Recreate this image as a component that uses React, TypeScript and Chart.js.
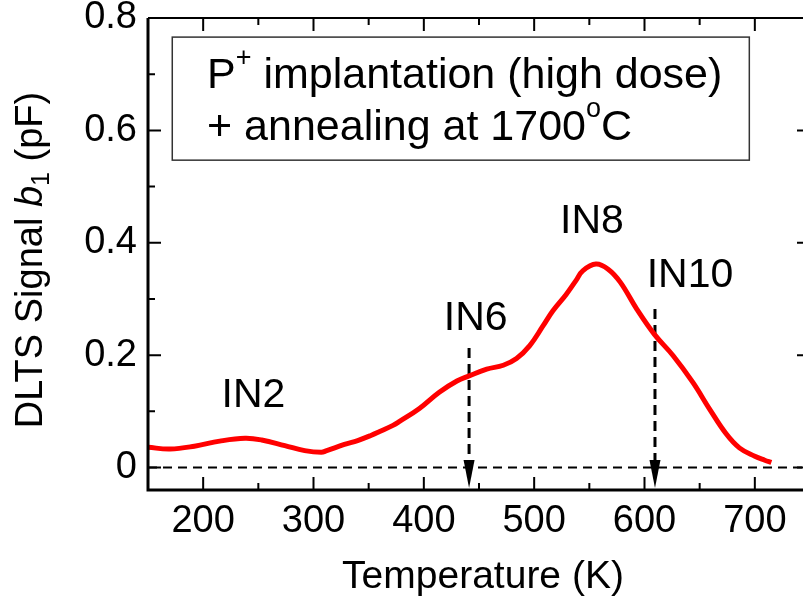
import React, { useEffect, useRef } from "react";
import { Chart, registerables } from "chart.js";

Chart.register(...registerables);

// ---- data ----
const TEMPERATURE_K = [150, 170, 192, 215, 238, 253, 274, 292, 307, 312, 328, 340, 352, 360, 372, 378, 396, 414, 430, 441, 457, 472, 484, 496, 508, 517, 529, 538, 544, 556, 567, 578, 593, 609, 626, 644, 659, 674, 686, 700, 709, 715];
const SIGNAL_PF = [0.036, 0.033, 0.038, 0.047, 0.052, 0.049, 0.039, 0.030, 0.027, 0.030, 0.041, 0.048, 0.057, 0.064, 0.075, 0.082, 0.105, 0.134, 0.154, 0.163, 0.175, 0.182, 0.194, 0.217, 0.252, 0.279, 0.308, 0.333, 0.350, 0.362, 0.353, 0.330, 0.282, 0.237, 0.199, 0.151, 0.104, 0.060, 0.035, 0.020, 0.013, 0.009];

const X_TICKS = [200, 300, 400, 500, 600, 700];
const X_MINOR = [250, 350, 450, 550, 650];
const Y_TICKS = [0, 0.2, 0.4, 0.6, 0.8];
const Y_MINOR = [0.1, 0.3, 0.5, 0.7];

const PEAK_LABELS = ["IN2", "IN6", "IN8", "IN10"];
const PEAK_LABEL_T = [245.6, 447, 552.4, 641.2];
const PEAK_LABEL_V = [0.108, 0.245, 0.417, 0.321];

const ARROW_T = [441, 609.5];
const ARROW_TOP = [0.2127, 0.282];
const ARROW_TIP = -0.0365;

const BOX_T = [172, 695];
const BOX_V = [0.766, 0.547];
const BOX_TEXT_T = 203.5;
const BOX_LINE_V = [0.675, 0.583];

const FONT = "'Liberation Sans', Arial, Helvetica, sans-serif";

const overlay = {
  id: "overlay",
  beforeDatasetsDraw(chart: any) {
    const ctx = chart.ctx;
    const xs = chart.scales.x;
    const ys = chart.scales.y;
    const ca = chart.chartArea;
    ctx.save();
    // zero dashed line
    ctx.strokeStyle = "#000";
    ctx.lineWidth = 2;
    ctx.setLineDash([9, 6]);
    const y0 = ys.getPixelForValue(0);
    ctx.beginPath();
    ctx.moveTo(ca.left, y0);
    ctx.lineTo(ca.right, y0);
    ctx.stroke();
    // arrows
    ARROW_T.forEach((t, i) => {
      const x = xs.getPixelForValue(t);
      const yTop = ys.getPixelForValue(ARROW_TOP[i]);
      const yTip = ys.getPixelForValue(ARROW_TIP);
      const head = 28;
      ctx.setLineDash([10, 6]);
      ctx.lineWidth = 3;
      ctx.beginPath();
      ctx.moveTo(x, yTop);
      ctx.lineTo(x, yTip - head + 2);
      ctx.stroke();
      ctx.setLineDash([]);
      ctx.fillStyle = "#000";
      ctx.beginPath();
      ctx.moveTo(x - 5.5, yTip - head);
      ctx.lineTo(x + 5.5, yTip - head);
      ctx.lineTo(x, yTip);
      ctx.closePath();
      ctx.fill();
    });
    ctx.restore();
  },
  afterDatasetsDraw(chart: any) {
    const ctx = chart.ctx;
    const xs = chart.scales.x;
    const ys = chart.scales.y;
    const ca = chart.chartArea;
    ctx.save();
    ctx.setLineDash([]);
    ctx.strokeStyle = "#000";
    // frame
    ctx.lineWidth = 3;
    ctx.beginPath();
    ctx.moveTo(ca.left, ca.top);
    ctx.lineTo(ca.left, ca.bottom);
    ctx.lineTo(ca.right, ca.bottom);
    ctx.stroke();
    ctx.lineWidth = 2;
    ctx.beginPath();
    ctx.moveTo(ca.left, ca.top);
    ctx.lineTo(ca.right, ca.top);
    ctx.lineTo(ca.right, ca.bottom);
    ctx.stroke();
    // ticks
    ctx.lineWidth = 2;
    const major = 13;
    const minor = 7;
    ctx.beginPath();
    const xt = (vals: number[], len: number) =>
      vals.forEach((v) => {
        const x = xs.getPixelForValue(v);
        ctx.moveTo(x, ca.bottom);
        ctx.lineTo(x, ca.bottom - len);
        ctx.moveTo(x, ca.top);
        ctx.lineTo(x, ca.top + len);
      });
    const yt = (vals: number[], len: number) =>
      vals.forEach((v) => {
        const y = ys.getPixelForValue(v);
        ctx.moveTo(ca.left, y);
        ctx.lineTo(ca.left + len, y);
        ctx.moveTo(ca.right, y);
        ctx.lineTo(ca.right - len, y);
      });
    xt(X_TICKS, major);
    xt(X_MINOR, minor);
    yt(Y_TICKS, major);
    yt(Y_MINOR, minor);
    ctx.stroke();

    // peak labels
    ctx.fillStyle = "#000";
    ctx.textBaseline = "alphabetic";
    ctx.textAlign = "center";
    ctx.font = `41px ${FONT}`;
    PEAK_LABELS.forEach((s, i) => {
      ctx.fillText(s, xs.getPixelForValue(PEAK_LABEL_T[i]), ys.getPixelForValue(PEAK_LABEL_V[i]));
    });

    // box
    const bx0 = xs.getPixelForValue(BOX_T[0]);
    const bx1 = xs.getPixelForValue(BOX_T[1]);
    const by0 = ys.getPixelForValue(BOX_V[0]);
    const by1 = ys.getPixelForValue(BOX_V[1]);
    ctx.fillStyle = "#fff";
    ctx.fillRect(bx0, by0, bx1 - bx0, by1 - by0);
    ctx.strokeStyle = "#333";
    ctx.lineWidth = 1.5;
    ctx.strokeRect(bx0, by0, bx1 - bx0, by1 - by0);

    ctx.fillStyle = "#000";
    ctx.textAlign = "left";
    const runs = (parts: [string, number, number][], x: number, y: number) => {
      let cx = x;
      parts.forEach(([txt, size, dy]) => {
        ctx.font = `${size}px ${FONT}`;
        ctx.fillText(txt, cx, y + dy);
        cx += ctx.measureText(txt).width;
      });
    };
    const tx = xs.getPixelForValue(BOX_TEXT_T);
    runs([["P", 43, 0], ["+", 27, -22], [" implantation (high dose)", 43, 0]], tx, ys.getPixelForValue(BOX_LINE_V[0]));
    runs([["+ annealing at 1700", 43, 0], ["o", 27, -23], ["C", 43, 0]], tx, ys.getPixelForValue(BOX_LINE_V[1]));

    // x title
    ctx.textAlign = "center";
    ctx.font = `39px ${FONT}`;
    ctx.fillText("Temperature (K)", 483, 588);

    // y title (rotated, mixed styles)
    ctx.save();
    ctx.translate(42, 260);
    ctx.rotate(-Math.PI / 2);
    ctx.textAlign = "left";
    const yparts: [string, string, number][] = [
      ["DLTS Signal ", `38px ${FONT}`, 0],
      ["b", `italic 38px ${FONT}`, 0],
      ["1", `25px ${FONT}`, 7],
      [" (pF)", `38px ${FONT}`, 0],
    ];
    let total = 0;
    yparts.forEach(([t, f]) => {
      ctx.font = f;
      total += ctx.measureText(t).width;
    });
    let cx = -total / 2;
    yparts.forEach(([t, f, dy]) => {
      ctx.font = f;
      ctx.fillText(t, cx, dy);
      cx += ctx.measureText(t).width;
    });
    ctx.restore();

    ctx.restore();
  },
};

export default function App() {
  const ref = useRef<HTMLCanvasElement | null>(null);
  useEffect(() => {
    if (!ref.current) return;
    const chart = new Chart(ref.current, {
      type: "line",
      data: {
        datasets: [
          {
            data: TEMPERATURE_K.map((t, i) => ({ x: t, y: SIGNAL_PF[i] })),
            borderColor: "#ff0000",
            borderWidth: 5,
            pointRadius: 0,
            tension: 0.4,
            fill: false,
          },
        ],
      },
      options: {
        responsive: false,
        animation: false,
        devicePixelRatio: 1,
        layout: { padding: { left: 0, right: 10, top: 18, bottom: 0 } },
        plugins: { legend: { display: false }, tooltip: { enabled: false } },
        scales: {
          x: {
            type: "linear",
            min: 150,
            max: 750,
            grid: { display: false, drawTicks: false },
            border: { display: false },
            afterBuildTicks: (s: any) => {
              s.ticks = X_TICKS.map((v) => ({ value: v }));
            },
            afterFit: (s: any) => {
              s.height = 110;
              s.paddingLeft = 0;
              s.paddingRight = 0;
            },
            ticks: {
              font: { family: FONT, size: 38 },
              color: "#000",
              padding: 9,
              maxRotation: 0,
              autoSkip: false,
              callback: (v: any) => String(v),
            },
          },
          y: {
            type: "linear",
            min: -0.04,
            max: 0.8,
            grid: { display: false, drawTicks: false },
            border: { display: false },
            afterBuildTicks: (s: any) => {
              s.ticks = Y_TICKS.map((v) => ({ value: v }));
            },
            afterFit: (s: any) => {
              s.width = 148;
              s.paddingTop = 0;
              s.paddingBottom = 0;
            },
            ticks: {
              font: { family: FONT, size: 38 },
              color: "#000",
              padding: 11,
              callback: (v: any) => (Number(v) === 0 ? "0" : Number(v).toFixed(1)),
            },
          },
        },
      },
      plugins: [overlay],
    });
    return () => chart.destroy();
  }, []);
  return (
    <div style={{ position: "fixed", left: 0, top: 0, width: 803, height: 600, overflow: "hidden", background: "#fff" }}>
      <canvas ref={ref} width={820} height={600} style={{ display: "block" }} />
    </div>
  );
}
